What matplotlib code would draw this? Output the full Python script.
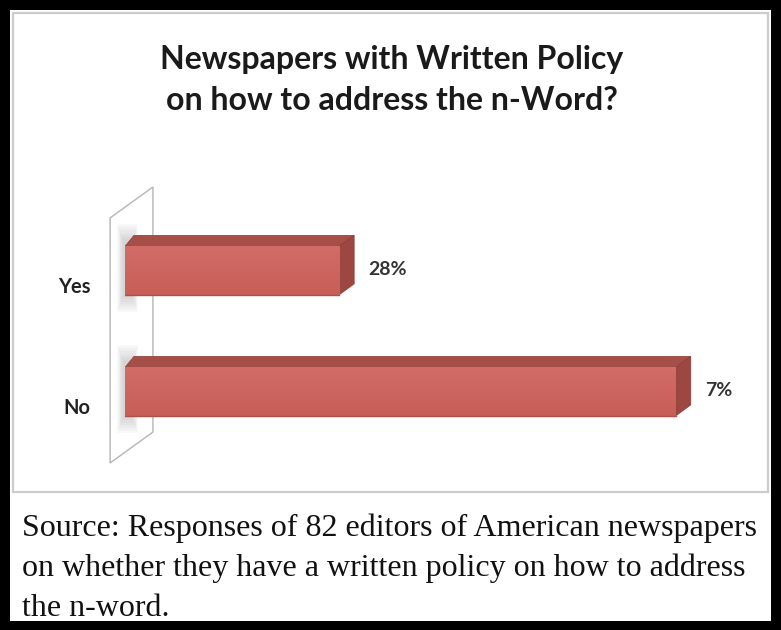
import numpy as np
import matplotlib.pyplot as plt
from matplotlib.colors import LinearSegmentedColormap
from matplotlib.patches import Polygon, Rectangle

# survey answers, bottom to top
categories = ["No", "Yes"]
values = [72, 28]
value_labels = ["7%", "28%"]

title_lines = ["Newspapers with Written Policy", "on how to address the n-Word?"]
source_lines = [
    "Source: Responses of 82 editors of American newspapers",
    "on whether they have a written policy on how to address",
    "the n-word.",
]

W, H = 781, 630
fig = plt.figure(figsize=(W / 100, H / 100), dpi=100, facecolor="black")


def fx(px):
    return px / W


def fy(py):
    return 1 - py / H


# white page inside the black frame, then the chart panel on it
fig.patches.append(Rectangle((fx(10), fy(621)), fx(771) - fx(10), fy(10) - fy(621),
                             transform=fig.transFigure, facecolor="white",
                             edgecolor="none", zorder=-2))
fig.patches.append(Rectangle((fx(13), fy(492)), fx(768) - fx(13), fy(13) - fy(492),
                             transform=fig.transFigure, facecolor="white",
                             edgecolor="#cccccc", lw=1.6, zorder=-1))

for i, line in enumerate(title_lines):
    fig.text(fx(392), fy(60 + 40 * i), line, ha="center", va="center",
             fontsize=23, fontfamily="Lato", fontweight="bold", color="#1a1a1a")

for i, line in enumerate(source_lines):
    fig.text(fx(22), fy(528 + 40.5 * i), line, ha="left", va="center",
             fontsize=23.0, fontfamily="Liberation Serif", color="#111111")

# bar axes: zero sits at the wall, 0..80 percent across
ax = fig.add_axes([fx(125), fy(463), (737 - 125) / W, (463 - 187) / H])
ax.set_zorder(2)
ax.set_facecolor("none")
ylo, yhi = -0.59, 1.69
for s in ax.spines.values():
    s.set_visible(False)
ax.set_xticks([])

pos = np.arange(len(categories))
bar_h = 0.40
dx, dy = 1.95, 0.09  # depth of the 3d boxes

# side wall the bars stick out of
wall = Polygon([(-1.95, ylo), (3.65, ylo + 0.256), (3.65, yhi), (-1.95, yhi - 0.256)],
               closed=True, facecolor="white", edgecolor="#b5b5b5", lw=1.0,
               clip_on=False, zorder=1)
ax.add_patch(wall)

# soft shadow of each bar on the wall
for p in pos:
    for k in range(8):
        grow = 0.018 * k
        ax.add_patch(Rectangle((-0.3 - 0.1 * k, p - bar_h / 2 - 0.02 - grow),
                               1.3 + 0.2 * k, bar_h + 0.08 + 2 * grow,
                               facecolor="#808080", alpha=0.045, edgecolor="none",
                               clip_on=False, zorder=2))

bars = ax.barh(pos, values, height=bar_h, color="#cc625b", edgecolor="none", zorder=4)

face_cmap = LinearSegmentedColormap.from_list("face", ["#d16c66", "#c75f58"])
grad = np.linspace(0, 1, 64).reshape(-1, 1)
for b, v, p in zip(bars, values, pos):
    top = p + bar_h / 2
    bot = p - bar_h / 2
    # light-to-dark shading on the front face
    im = ax.imshow(grad, cmap=face_cmap, extent=(0, v, bot, top), aspect="auto",
                   origin="upper", zorder=5)
    im.set_clip_path(b)
    ax.add_patch(Polygon([(0, top), (v, top), (v + dx, top + dy), (dx * 0.6, top + dy)],
                         closed=True, facecolor="#a64f49", edgecolor="#9a4640",
                         lw=0.6, zorder=4))
    ax.add_patch(Polygon([(v, bot), (v, top), (v + dx, top + dy), (v + dx, bot + dy)],
                         closed=True, facecolor="#9c4741", edgecolor="#8f3f3a",
                         lw=0.6, zorder=4))
    ax.plot([0, v], [bot, bot], color="#b04f49", lw=1.0, zorder=6)

ax.set_xlim(0, 80)
ax.set_ylim(ylo, yhi)

for v, p, lab in zip(values, pos, value_labels):
    ax.text(v + 3.8, p + 0.01, lab, ha="left", va="center", fontsize=14,
            fontfamily="Lato", fontweight="bold", color="#333333", zorder=6)

ax.set_yticks(pos - 0.12)
ax.set_yticklabels(categories, fontsize=14.5, fontfamily="Lato", fontweight="bold",
                   color="#222222")
ax.tick_params(axis="y", length=0, pad=25)

fig.savefig("out.png", dpi=100, facecolor="black")
